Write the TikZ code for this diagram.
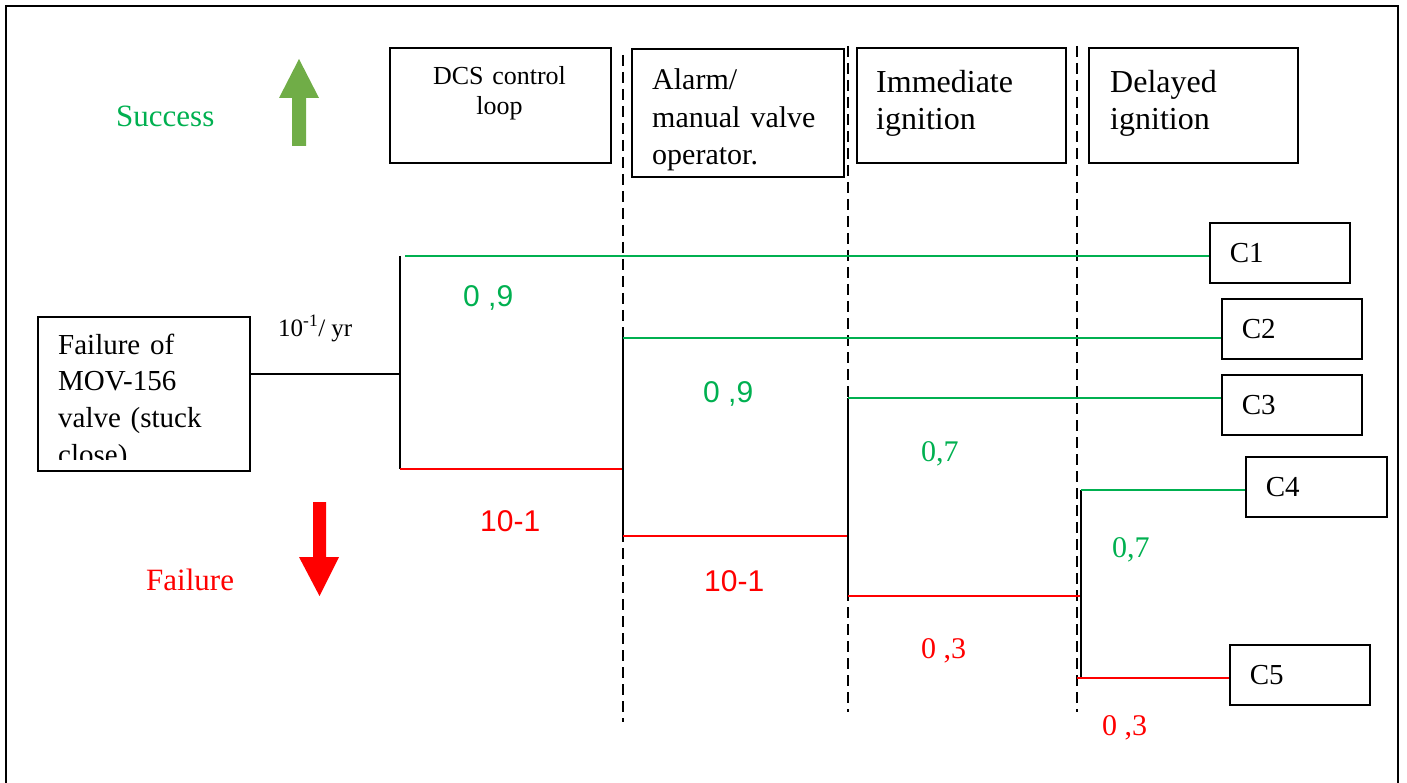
\documentclass[tikz,border=0pt]{standalone}
\usepackage{fontspec}
\setmainfont{Liberation Serif}
\newfontfamily\arialfont{Liberation Sans}
\definecolor{okgreen}{RGB}{0,176,80}
\definecolor{arrowgreen}{RGB}{112,173,71}
\definecolor{failred}{RGB}{255,0,0}
\tikzset{
  box/.style={draw, line width=1.6pt, inner sep=0pt, anchor=north west},
  cbox/.style={box, minimum height=60pt, text width=100pt, inner xsep=20pt,
    align=left, font=\fontsize{29}{34}\selectfont},
  txt/.style={inner sep=0pt, anchor=base west},
  conn/.style={line width=1.6pt},
  gline/.style={conn, draw=okgreen},
  rline/.style={conn, draw=failred},
  sepline/.style={line width=2.6pt, dash pattern=on 11pt off 6pt},
  serifg/.style={txt, text=okgreen, font=\fontsize{30}{36}\selectfont},
  serifr/.style={txt, text=failred, font=\fontsize{30}{36}\selectfont},
  sansg/.style={txt, text=okgreen, font=\arialfont\fontsize{30}{36}\selectfont},
  sansr/.style={txt, text=failred, font=\arialfont\fontsize{30}{36}\selectfont}
}
\begin{document}
\begin{tikzpicture}[x=1pt,y=-1pt]
\useasboundingbox (0,0) rectangle (1407,783);

% outer frame (open at the bottom)
\draw[line width=2pt] (6,783) -- (6,6) -- (1398,6) -- (1398,783);

% legend
\node[txt, text=okgreen, font=\fontsize{31}{36}\selectfont] (succ) at (116,127) {Success};
\node[txt, text=failred, font=\fontsize{31}{36}\selectfont] (fail) at (146,590) {Failure};
\fill[arrowgreen] (292,146) -- (306,146) -- (306,98) -- (319,98) -- (299,59)
  -- (279,98) -- (292,98) -- cycle;
\fill[failred] (313,502) -- (326,502) -- (326,557) -- (339,557) -- (319.5,596)
  -- (299,557) -- (313,557) -- cycle;

% column headings
\node[box, minimum width=221pt, minimum height=115pt] (dcs) at (389,47) {};
\node[txt, anchor=base, text width=221pt, align=center, font=\fontsize{26}{30}\selectfont] (dcsT) at (499.5,85) {DCS control\\loop};
\node[box, minimum width=212pt, minimum height=128pt] (alarm) at (631,48) {};
\node[txt, text width=190pt, align=left, font=\fontsize{30}{37.5}\selectfont] (alarmT) at (652,90) {Alarm/\\manual valve\\operator.};
\node[box, minimum width=209pt, minimum height=115pt] (imm) at (856,47) {};
\node[txt, text width=190pt, align=left, font=\fontsize{32}{37}\selectfont] (immT) at (876,92.5) {Immediate\\ignition};
\node[box, minimum width=209pt, minimum height=115pt] (del) at (1088,47) {};
\node[txt, text width=190pt, align=left, font=\fontsize{32}{37}\selectfont] (delT) at (1110,92.5) {Delayed\\ignition};

% column separators
\draw[sepline] (623,55) -- (623,722);
\draw[sepline] (848,46) -- (848,712);
\draw[sepline] (1077,46) -- (1077,712);

% initiating event
\node[box, minimum width=212pt, minimum height=154pt] (init) at (37,316) {};
\begin{scope}
  \clip (37,316) rectangle (249,459);
  \node[txt, text width=190pt, align=left, font=\fontsize{29}{36.7}\selectfont] (initT) at (58,354) {Failure of\\MOV-156\\valve (stuck\\close)};
\end{scope}
\node[txt, font=\fontsize{25}{30}\selectfont] (freq) at (278,336) {10\textsuperscript{-1}/ yr};

% consequence boxes
\node[cbox] (c1) at (1209,222) {C1};
\node[cbox] (c2) at (1221,298) {C2};
\node[cbox] (c3) at (1221,374) {C3};
\node[cbox, minimum width=141pt, text width=101pt] (c4) at (1245,456) {C4};
\node[cbox] (c5) at (1229,644) {C5};

% branch points
\coordinate (e0) at (400,374);
\coordinate (s1) at (405,256);  \coordinate (v1t) at (400,256); \coordinate (v1b) at (400,469);
\coordinate (v2t) at (623,338); \coordinate (v2b) at (623,536);
\coordinate (v3t) at (848,398); \coordinate (v3b) at (848,596);
\coordinate (v4t) at (1081,490); \coordinate (v4b) at (1081,678);
\coordinate (r4) at (1077,678);

% tree
\draw[conn] (init.east |- e0) -- (e0);
\draw[conn] (v1t) -- (v1b);
\draw[gline] (s1) -- (s1 -| c1.west);
\draw[rline] (v1b) -- (v2t |- v1b);
\draw[conn] (v2t) -- (v2b);
\draw[gline] (v2t) -- (v2t -| c2.west);
\draw[rline] (v2b) -- (v3t |- v2b);
\draw[conn] (v3t) -- (v3b);
\draw[gline] (v3t) -- (v3t -| c3.west);
\draw[rline] (v3b) -- (v4t |- v3b);
\draw[conn] (v4t) -- (v4b);
\draw[gline] (v4t) -- (v4t -| c4.west);
\draw[rline] (r4) -- (r4 -| c5.west);

% branch probabilities
\node[sansg] (p1s) at (463,307) {0 ,9};
\node[sansr] (p1f) at (480,531) {10-1};
\node[sansg] (p2s) at (703,402) {0 ,9};
\node[sansr] (p2f) at (704,591) {10-1};
\node[serifg] (p3s) at (921,461) {0,7};
\node[serifr] (p3f) at (921,658) {0 ,3};
\node[serifg] (p4s) at (1112,557) {0,7};
\node[serifr] (p4f) at (1102,735) {0 ,3};
\end{tikzpicture}
\end{document}
